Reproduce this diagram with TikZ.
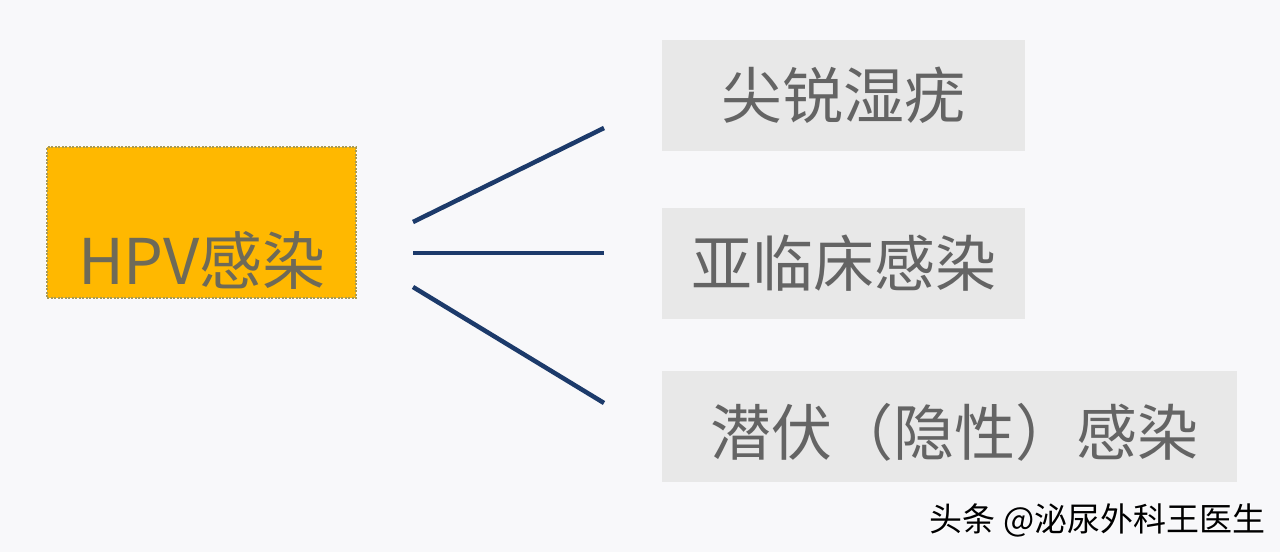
\documentclass[tikz,border=0pt]{standalone}
\usepackage{fontspec}
\usepackage{xcolor}
\usepackage{tikz}
\usetikzlibrary{calc}
\newfontfamily\cjk{Noto Sans CJK SC}
\definecolor{bg}{HTML}{F8F8FA}
\definecolor{amber}{HTML}{FFB800}
\definecolor{rim}{HTML}{A89A55}
\definecolor{boxgray}{HTML}{E8E8E8}
\definecolor{ink}{HTML}{646464}
\definecolor{hpvink}{HTML}{6E6A58}
\definecolor{navy}{HTML}{1C3A6A}
\tikzset{
  hpvbox/.style={draw=rim, fill=amber, line width=1.6pt, dash pattern=on 2pt off 1.5pt, minimum width=309pt, minimum height=151pt, inner sep=0pt},
  kind/.style={fill=boxgray, minimum height=111pt, inner sep=0pt, text=ink, font=\cjk\fontsize{61}{64}\selectfont},
  big/.style={text=hpvink, font=\cjk\fontsize{63}{66}\selectfont, inner sep=0pt},
  link/.style={draw=navy, line width=4.5pt},
  credittext/.style={font=\cjk\fontsize{33}{36}\selectfont, inner sep=0pt},
}

\begin{document}
\begin{tikzpicture}[x=1pt, y=-1pt]
  \fill[bg] (0,0) rectangle (1280,552);
  \useasboundingbox (0,0) rectangle (1280,552);

  % left box
  \node[hpvbox] (hpv) at (201.5,222.5) {};
  \node[big] (hpvtext) at (202,260) {HPV感染};

  % the three outcomes
  \node[kind, minimum width=363pt] (wart) at (843.5,95.5) {\raisebox{-8pt}{尖锐湿疣}};
  \node[kind, minimum width=363pt] (sub) at (843.5,263.5) {\raisebox{-8pt}{亚临床感染}};
  \node[kind, minimum width=575pt] (latent) at (949.5,426) {};
  \node[text=ink, font=\cjk\fontsize{61}{64}\selectfont, inner sep=0pt] (latenttext) at (954,432) {潜伏（隐性）感染};

  % branches
  \coordinate (a1) at (413,222);
  \coordinate (b1) at (604,128);
  \coordinate (a2) at (413,253);
  \coordinate (b2) at (604,253);
  \coordinate (a3) at (413,287);
  \coordinate (b3) at (604,403);
  \draw[link] (a1) -- (b1);
  \draw[link] (a2) -- (b2);
  \draw[link] (a3) -- (b3);

  % watermark
  \node[credittext, text=white] (shadow) at ($(1097.5,520)+(1.2,1.2)$) {头条 @泌尿外科王医生};
  \node[credittext, text=black] (credit) at (1097.5,520) {头条 @泌尿外科王医生};
\end{tikzpicture}
\end{document}
